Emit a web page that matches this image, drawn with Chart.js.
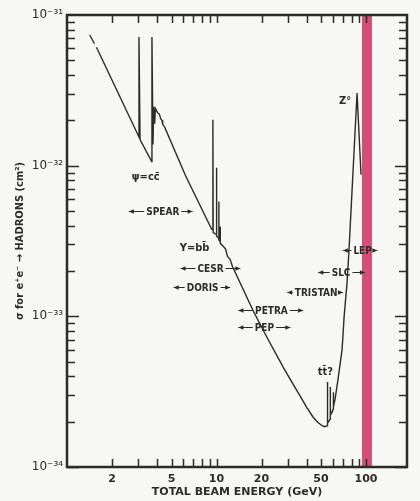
<!DOCTYPE html>
<html>
<head>
<meta charset="utf-8">
<script src="https://cdn.jsdelivr.net/npm/chart.js@4"></script>
<style>
  html, body { margin: 0; padding: 0; background: #f7f7f5; }
</style>
</head>
<body>
<canvas id="sigmaChart" width="420" height="501"></canvas>
<script>
// total beam energy (GeV) and cross section (cm^2)
const energyGeV = [
  1.42, 1.60, 3.03, 3.03, 3.08, 3.686, 3.70, 3.76, 3.80, 3.86, 3.90, 4.04, 4.15, 4.23, 4.32, 4.365, 4.50,
  6.2, 9.30, 9.46, 9.46, 9.50, 10.0, 10.0, 10.03, 10.36, 10.36, 10.39, 10.58, 10.58, 10.62,
  11.13, 11.5, 11.84, 12.3, 12.79, 17.65, 21.2, 27.97, 32.0, 36.3, 40.0, 44.3, 47.5, 50.9, 53.0, 55.0, 55.0, 55.6,
  57.5, 57.5, 58.0, 60.3, 60.3, 60.8, 62.1, 65.0, 69.2, 71.4, 74.7, 77.0, 87.1, 92.6
];
const sigmaCm2 = [
  7.37e-32, 5.9e-32, 1.55e-32, 7.15e-32, 1.49e-32, 1.063e-32, 7.15e-32, 1.38e-32, 2.46e-32, 1.9e-32, 2.40e-32, 2.24e-32, 2.2e-32, 2.05e-32, 2.0e-32, 1.88e-32, 1.80e-32,
  8.6e-33, 3.77e-33, 3.75e-33, 2.02e-32, 3.6e-33, 3.5e-33, 9.7e-33, 3.4e-33, 3.3e-33, 5.78e-33, 3.2e-33, 3.15e-33, 3.95e-33, 3.05e-33,
  2.91e-33, 2.8e-33, 2.50e-33, 2.4e-33, 2.14e-33, 1.08e-33, 7.6e-34, 4.59e-34, 3.65e-34, 2.95e-34, 2.5e-34, 2.14e-34, 1.98e-34, 1.88e-34, 1.85e-34, 1.88e-34, 3.66e-34, 1.95e-34,
  2.08e-34, 3.39e-34, 2.2e-34, 2.42e-34, 3.14e-34, 2.5e-34, 2.82e-34, 3.83e-34, 6.04e-34, 1.0e-33, 1.68e-33, 2.78e-33, 3.04e-32, 8.72e-33
];

const xTickLabels = [2, 5, 10, 20, 50, 100];
const yTickLabels = [1e-34, 1e-33, 1e-32, 1e-31];

// LEP energy band
const lepBand = [94, 109.6];

// machine ranges: name, label centre, arrow ends (GeV), height (cm^2)
const machines = [
  { name: 'SPEAR',   mid: 4.37, lo: 2.59, hi: 6.92,  s: 5.04e-33 },
  { name: 'CESR',    mid: 9.12, lo: 5.75, hi: 14.45, s: 2.08e-33 },
  { name: 'DORIS',   mid: 8.08, lo: 5.17, hi: 12.35, s: 1.556e-33 },
  { name: 'PETRA',   mid: 23.3, lo: 14.0, hi: 38.0,  s: 1.096e-33 },
  { name: 'PEP',     mid: 20.9, lo: 14.0, hi: 31.2,  s: 8.45e-34 },
  { name: 'TRISTAN', mid: 46.4, lo: 29.7, hi: 70.1,  s: 1.442e-33 },
  { name: 'SLC',     mid: 68.1, lo: 47.9, hi: 98.4,  s: 1.955e-33 },
  { name: 'LEP',     mid: 94.9, lo: 70.1, hi: 119,   s: 2.74e-33 }
];

const notes = [
  { text: 'ψ=cc̄', e: 3.36, s: 8.45e-33 },
  { text: 'Υ=bb̄', e: 7.14, s: 2.82e-33 },
  { text: 'tt̄?', e: 53.4, s: 4.26e-34 },
  { text: 'Z°', e: 72.4, s: 2.69e-32 }
];

const ink = '#2b2b2b';
const labelFont = 'bold 10px "Liberation Sans Narrow", "DejaVu Sans Condensed", sans-serif';
const supDigits = { '-': '⁻', '0': '⁰', '1': '¹', '2': '²', '3': '³', '4': '⁴', '5': '⁵', '6': '⁶', '7': '⁷', '8': '⁸', '9': '⁹' };

function arrowHead(ctx, x, y, dir) {
  ctx.beginPath();
  ctx.moveTo(x, y);
  ctx.lineTo(x - dir * 5, y - 2.2);
  ctx.lineTo(x - dir * 5, y + 2.2);
  ctx.closePath();
  ctx.fill();
}

const paperPlugin = {
  id: 'paper',
  beforeDraw(chart) {
    const ctx = chart.ctx;
    ctx.save();
    ctx.fillStyle = '#f7f7f5';
    ctx.fillRect(0, 0, chart.width, chart.height);
    ctx.restore();
  },
  beforeDatasetsDraw(chart) {
    const { ctx, chartArea, scales } = chart;
    const x1 = scales.x.getPixelForValue(lepBand[0]);
    const x2 = scales.x.getPixelForValue(lepBand[1]);
    ctx.save();
    ctx.fillStyle = '#d44f78';
    ctx.fillRect(x1, chartArea.top, x2 - x1, chartArea.bottom - chartArea.top);
    ctx.restore();
  },
  afterDraw(chart) {
    const { ctx, chartArea: a, scales } = chart;
    const xs = scales.x, ys = scales.y;
    ctx.save();
    ctx.strokeStyle = ink;
    ctx.fillStyle = ink;

    // inward tick marks on all four sides
    ctx.lineWidth = 1.5;
    const xMinor = [];
    for (let d = 1; d <= 100; d *= 10) {
      for (let m = 1; m <= 9; m++) {
        const v = m * d;
        if (v > 1 && v <= 100) xMinor.push(v);
      }
    }
    xMinor.forEach(v => {
      const px = Math.round(xs.getPixelForValue(v)) + 0.5;
      ctx.beginPath();
      ctx.moveTo(px, a.bottom); ctx.lineTo(px, a.bottom - 8);
      ctx.moveTo(px, a.top); ctx.lineTo(px, a.top + 8);
      ctx.stroke();
    });
    for (let e = -34; e <= -32; e++) {
      for (let m = 1; m <= 9; m++) {
        const v = m * Math.pow(10, e);
        const py = Math.round(ys.getPixelForValue(v)) + 0.5;
        const len = m === 1 ? 12 : 8;
        ctx.beginPath();
        ctx.moveTo(a.left, py); ctx.lineTo(a.left + len, py);
        ctx.moveTo(a.right, py); ctx.lineTo(a.right - len, py);
        ctx.stroke();
      }
    }

    // frame
    ctx.lineWidth = 2.5;
    ctx.strokeRect(a.left, a.top, a.right - a.left, a.bottom - a.top);

    // machine ranges
    ctx.font = labelFont;
    ctx.textAlign = 'center';
    ctx.textBaseline = 'middle';
    ctx.lineWidth = 1;
    machines.forEach(m => {
      const cx = xs.getPixelForValue(m.mid);
      const y = Math.round(ys.getPixelForValue(m.s)) + 0.5;
      const w = ctx.measureText(m.name).width;
      const l = xs.getPixelForValue(m.lo);
      const r = xs.getPixelForValue(m.hi);
      ctx.beginPath();
      ctx.moveTo(l, y); ctx.lineTo(cx - w / 2 - 2, y);
      ctx.moveTo(cx + w / 2 + 2, y); ctx.lineTo(r, y);
      ctx.stroke();
      arrowHead(ctx, l, y, -1);
      arrowHead(ctx, r, y, 1);
      ctx.fillText(m.name, cx, y + 0.5);
    });

    ctx.font = 'bold 11px "DejaVu Sans Condensed", "DejaVu Sans", sans-serif';
    notes.forEach(n => {
      ctx.fillText(n.text, xs.getPixelForValue(n.e), ys.getPixelForValue(n.s));
    });
    ctx.restore();
  }
};

const points = energyGeV.map((e, i) => ({ x: e, y: sigmaCm2[i] }));

const sigmaChart = new Chart(document.getElementById('sigmaChart'), {
  type: 'line',
  data: {
    datasets: [{
      data: points,
      borderColor: ink,
      borderWidth: 1.4,
      pointRadius: 0,
      tension: 0,
      fill: false,
      segment: {
        borderDash: c => (c.p0DataIndex === 0 ? [10, 4] : undefined)
      }
    }]
  },
  options: {
    responsive: false,
    animation: false,
    layout: { padding: { top: 15, right: 13, left: 0, bottom: 0 } },
    plugins: { legend: { display: false }, tooltip: { enabled: false } },
    scales: {
      x: {
        type: 'logarithmic',
        min: 1,
        max: 188,
        grid: { display: false, drawTicks: false },
        border: { display: false },
        afterBuildTicks: s => { s.ticks = xTickLabels.map(v => ({ value: v })); },
        afterFit: s => { s.height = 34; },
        ticks: {
          autoSkip: false,
          maxRotation: 0,
          padding: 6,
          color: ink,
          font: { family: '"DejaVu Sans", sans-serif', size: 11, weight: 'bold' },
          callback: v => String(v)
        },
        title: {
          display: true,
          text: 'TOTAL BEAM ENERGY (GeV)',
          color: ink,
          padding: { top: 0, bottom: 2 },
          font: { family: '"DejaVu Sans", sans-serif', size: 11, weight: 'bold' }
        }
      },
      y: {
        type: 'logarithmic',
        min: 1e-34,
        max: 1e-31,
        grid: { display: false, drawTicks: false },
        border: { display: false },
        afterBuildTicks: s => { s.ticks = yTickLabels.map(v => ({ value: v })); },
        afterFit: s => { s.width = 67; },
        ticks: {
          padding: 4,
          color: ink,
          font: { family: '"DejaVu Sans", sans-serif', size: 12 },
          callback: v => '10' + String(Math.round(Math.log10(v))).split('').map(c => supDigits[c]).join('')
        },
        title: {
          display: true,
          text: 'σ for e⁺e⁻ → HADRONS (cm²)',
          color: ink,
          padding: { top: 14, bottom: 0 },
          font: { family: '"DejaVu Sans Condensed", "DejaVu Sans", sans-serif', size: 11, weight: 'bold' }
        }
      }
    }
  },
  plugins: [paperPlugin]
});
</script>
</body>
</html>
